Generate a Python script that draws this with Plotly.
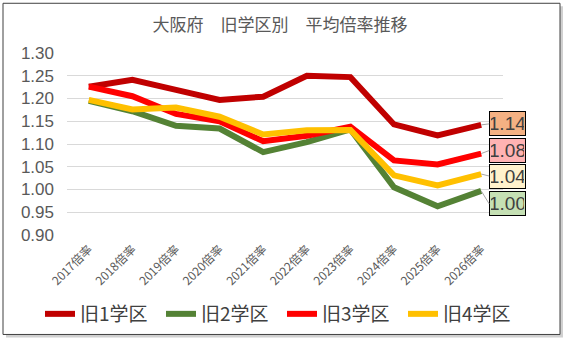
import plotly.graph_objects as go

categories = ["2017倍率", "2018倍率", "2019倍率", "2020倍率", "2021倍率",
              "2022倍率", "2023倍率", "2024倍率", "2025倍率", "2026倍率"]
series_names = ["旧1学区", "旧2学区", "旧3学区", "旧4学区"]
district1 = [1.226, 1.241, 1.219, 1.197, 1.204, 1.250, 1.247, 1.143, 1.119, 1.142]
district2 = [1.195, 1.172, 1.140, 1.134, 1.082, 1.104, 1.132, 1.005, 0.963, 0.997]
district3 = [1.226, 1.205, 1.166, 1.150, 1.106, 1.118, 1.138, 1.064, 1.055, 1.079]
district4 = [1.197, 1.176, 1.180, 1.160, 1.121, 1.130, 1.131, 1.031, 1.009, 1.034]
y_ticks = [0.90, 0.95, 1.00, 1.05, 1.10, 1.15, 1.20, 1.25, 1.30]
end_labels = ["1.14", "1.00", "1.08", "1.04"]

colors = ["#C00000", "#548235", "#FF0000", "#FFC000"]
label_fill = ["#F4B183", "#C5E0B4", "#FFB3B3", "#FFF2CC"]
label_ay = [-1, 13, -3, 2]
all_series = [district1, district2, district3, district4]

fig = go.Figure()
for name, vals, c in zip(series_names, all_series, colors):
    fig.add_trace(go.Scatter(x=categories, y=vals, name=name, mode="lines",
                             line=dict(color=c, width=6)))

font_cjk = "Noto Sans CJK JP, Noto Sans, sans-serif"
font_num = "Liberation Sans Narrow, Liberation Sans, sans-serif"
annotations = []
for vals, lab, fill, ay in zip(all_series, end_labels, label_fill, label_ay):
    annotations.append(dict(
        x=categories[-1], y=vals[-1], xref="x", yref="y",
        text=lab, showarrow=True, arrowhead=0, arrowwidth=1, arrowcolor="#A6A6A6",
        ax=8, ay=ay, xanchor="left", yanchor="middle",
        width=33, height=21,
        bgcolor=fill, bordercolor="#000000", borderwidth=1, borderpad=1,
        font=dict(size=19, color="#404040", family=font_num)))

# plot area: x 67..503, y 53..236
pw, ph = 436, 183
def px(x):
    return (x - 67) / pw
def py(y):
    return (236 - y) / ph

shapes = [
    dict(type="rect", xref="paper", yref="paper", x0=px(6), x1=px(563), y0=py(339), y1=py(6),
         line=dict(width=0), fillcolor="#D0D0D0", layer="below"),
    dict(type="rect", xref="paper", yref="paper", x0=px(3), x1=px(560), y0=py(336), y1=py(3),
         line=dict(width=1, color="#404040"), fillcolor="white", layer="below"),
]

fig.update_layout(
    width=568, height=344,
    margin=dict(l=67, r=65, t=53, b=108),
    paper_bgcolor="white", plot_bgcolor="rgba(0,0,0,0)",
    title=dict(text="大阪府　旧学区別　平均倍率推移", x=280 / 568, xanchor="center",
               y=1 - 25 / 344, yanchor="middle",
               font=dict(size=17, color="#595959", family=font_cjk)),
    xaxis=dict(range=[-0.5, 9.5], tickangle=-45, showgrid=False, showline=False,
               ticks="", ticklabelstandoff=4,
               tickfont=dict(size=12, color="#595959", family=font_cjk)),
    yaxis=dict(range=[0.9, 1.3], tickvals=y_ticks, ticktext=[f"{v:.2f}" for v in y_ticks],
               showgrid=True, gridcolor="#D9D9D9", gridwidth=1, zeroline=False,
               showline=False, ticks="", ticklabelstandoff=12,
               tickfont=dict(size=17, color="#595959", family=font_num)),
    legend=dict(orientation="h", x=px(40), xanchor="left", y=py(314), yanchor="middle",
                font=dict(size=19, color="#404040", family=font_cjk),
                entrywidth=76, bgcolor="rgba(0,0,0,0)"),
    showlegend=True,
    annotations=annotations,
    shapes=shapes,
)

fig.write_html("out.html")
